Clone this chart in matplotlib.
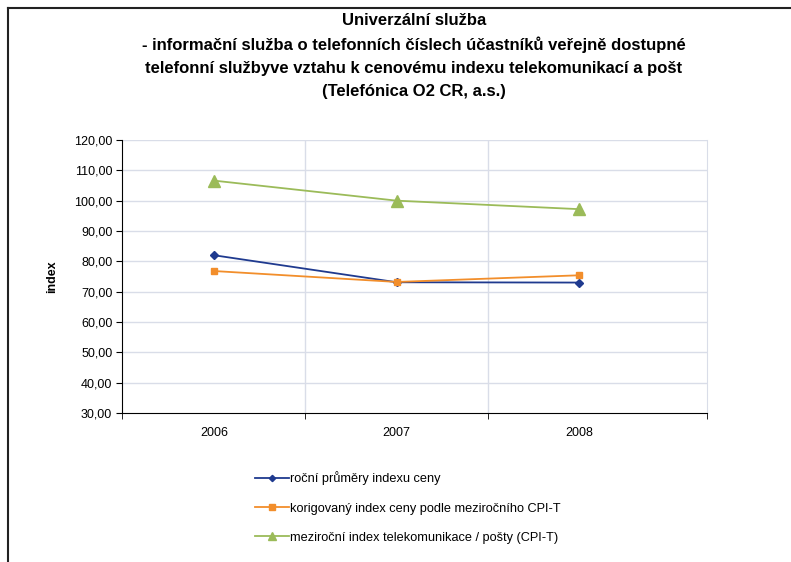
import numpy as np
import matplotlib.pyplot as plt
from matplotlib.lines import Line2D

plt.rcParams['font.family'] = ['Liberation Sans', 'DejaVu Sans']

# ---------------- Data ------------------------
years = ["2006", "2007", "2008"]
rocni_prumery = [82.0, 73.1, 73.0]
korigovany = [76.8, 73.2, 75.4]
cpi_t = [106.6, 100.0, 97.2]

labels = [
    "roční průměry indexu ceny",
    "korigovaný index ceny podle meziročního CPI-T",
    "meziroční index telekomunikace / pošty (CPI-T)",
]
colors = ["#1f3a8f", "#f28e2b", "#9bbb59"]
markers = ["D", "s", "^"]
msizes = [4, 5, 8]

title = ("Univerzální služba\n"
         "- informační služba o telefonních číslech účastníků veřejně dostupné\n"
         "telefonní službyve vztahu k cenovému indexu telekomunikací a pošt\n"
         "(Telefónica O2 CR, a.s.)")

# ---------------- Figure ------------------------
fig = plt.figure(figsize=(7.91, 5.62), dpi=100)
fig.patch.set_facecolor("white")
W, H = 791, 562
ax = fig.add_axes([122 / W, 1 - 413 / H, (707 - 122) / W, (413 - 140) / H])

x = np.arange(len(years))
for vals, c, m, ms, lab in zip([rocni_prumery, korigovany, cpi_t], colors, markers, msizes, labels):
    ax.plot(x, vals, color=c, marker=m, markersize=ms, linewidth=1.3, label=lab, zorder=3)

ax.set_xlim(-0.505, 2.70)
ax.set_ylim(30, 120)
ax.set_yticks(np.arange(30, 121, 10))
ax.set_yticklabels([f"{v:.2f}".replace(".", ",") for v in np.arange(30, 121, 10)], fontsize=9)
ax.set_xticks(x)
ax.set_xticklabels(years, fontsize=9)
ax.set_xticks([-0.505, 0.5, 1.5, 2.70], minor=True)
ax.tick_params(axis="x", which="major", length=0, pad=10)
ax.tick_params(axis="x", which="minor", length=4, direction="out", color="black")
ax.tick_params(axis="y", length=4, direction="out", pad=3)

# gridlines
for v in np.arange(40, 121, 10):
    ax.axhline(v, color="#d9dde8", linewidth=1, zorder=1)
for v in [0.5, 1.5]:
    ax.axvline(v, color="#d9dde8", linewidth=1, zorder=1)

ax.spines['top'].set_visible(False)
ax.spines['right'].set_color("#d9dde8")
ax.spines['left'].set_color("black")
ax.spines['bottom'].set_color("black")

ax.set_ylabel("index", fontsize=9, fontweight="bold", labelpad=11)

fig.text(414 / W, 1 - 13 / H, title, ha="center", va="top", fontsize=12,
         fontweight="bold", linespacing=1.65)

# legend below the plot
handles = [Line2D([0], [0], color=c, marker=m, markersize=ms * 0.8, linewidth=1.3)
           for c, m, ms in zip(colors, markers, msizes)]
fig.legend(handles, labels, loc="upper left", bbox_to_anchor=(243 / W, 1 - 460 / H),
           frameon=False, fontsize=9.2, labelspacing=1.35, handlelength=2.7,
           handletextpad=0.1)

# outer border (left and top)
fig.add_artist(Line2D([8 / W, 8 / W], [0, 1 - 8 / H], color="#222222", linewidth=1.5))
fig.add_artist(Line2D([8 / W, 1], [1 - 8 / H, 1 - 8 / H], color="#222222", linewidth=1.5))

fig.savefig("out.png", dpi=100)
